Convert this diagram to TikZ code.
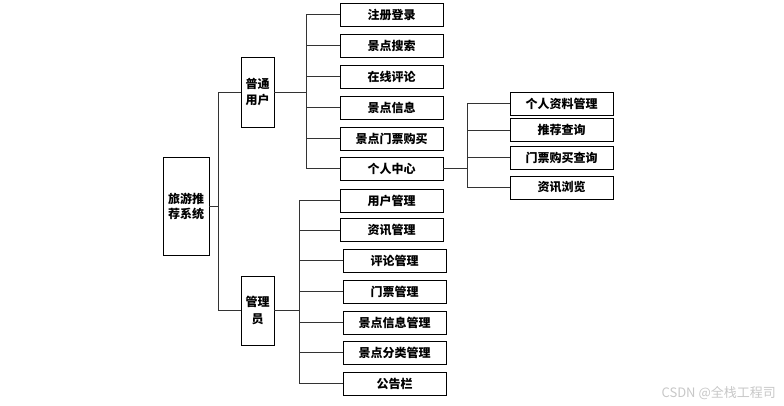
\documentclass[tikz,border=0pt]{standalone}
\usepackage{fontspec}
\newfontfamily\cjk{Noto Sans CJK SC}
\begin{document}
\begin{tikzpicture}[x=1pt,y=-1pt,
  box/.style={draw=black,line width=0.8pt,fill=white,inner sep=0pt,
    font=\cjk\bfseries\fontsize{12}{15}\selectfont,align=center},
  leaf/.style={box,minimum width=103pt,minimum height=23pt},
  tall/.style={box,minimum width=33pt,minimum height=70pt,font=\cjk\bfseries\fontsize{12}{16.5}\selectfont},
  conn/.style={draw=black!80,line width=0.9pt},
  wm/.style={text=black!22,font=\cjk\fontsize{13}{15}\selectfont,inner sep=0pt}]
\useasboundingbox (0,0) rectangle (784,406);
% nodes
\node[box,minimum width=46pt,minimum height=98pt] (root) at (186,206) {旅游推\\荐系统};
\node[tall] (user) at (257.5,92) {普通\\用户};
\node[tall,minimum height=69pt] (admin) at (257.5,310.5) {管理\\员};
% user leaves
\node[leaf] (u1) at (391.5,14.5) {注册登录};
\node[leaf] (u2) at (391.5,45.5) {景点搜索};
\node[leaf] (u3) at (391.5,76.5) {在线评论};
\node[leaf] (u4) at (391.5,107.5) {景点信息};
\node[leaf] (u5) at (391.5,138.5) {景点门票购买};
\node[leaf] (u6) at (391.5,168.5) {个人中心};
% personal centre leaves
\node[leaf] (p1) at (561.5,103.5) {个人资料管理};
\node[leaf] (p2) at (561.5,130) {推荐查询};
\node[leaf] (p3) at (561.5,157.5) {门票购买查询};
\node[leaf] (p4) at (561.5,187.5) {资讯浏览};
% admin leaves
\node[leaf] (a1) at (391.5,200.5) {用户管理};
\node[leaf] (a2) at (391.5,230) {资讯管理};
\node[leaf] (a3) at (394.5,260.5) {评论管理};
\node[leaf] (a4) at (394.5,291.5) {门票管理};
\node[leaf] (a5) at (394.5,322.5) {景点信息管理};
\node[leaf] (a6) at (394.5,352.5) {景点分类管理};
\node[leaf] (a7) at (394.5,383.5) {公告栏};
% junctions
\coordinate (j0) at (218,206);
\coordinate (j1) at (306,92);
\coordinate (j2) at (467,168.5);
\coordinate (j3) at (299,310.5);
% connectors
\draw[conn] (root.east) -- (j0);
\draw[conn] (j0) |- (user.west);
\draw[conn] (j0) |- (admin.west);
\draw[conn] (user.east) -- (j1);
\foreach \n in {u1,u2,u3,u4,u5,u6} \draw[conn] (j1) |- (\n.west);
\draw[conn] (u6.east) -- (j2);
\foreach \n in {p1,p2,p3,p4} \draw[conn] (j2) |- (\n.west);
\draw[conn] (admin.east) -- (j3);
\foreach \n in {a1,a2,a3,a4,a5,a6,a7} \draw[conn] (j3) |- (\n.west);
% watermark
\node[wm,anchor=east] (wmark) at (776,393) {CSDN @全栈工程司};
\end{tikzpicture}
\end{document}
